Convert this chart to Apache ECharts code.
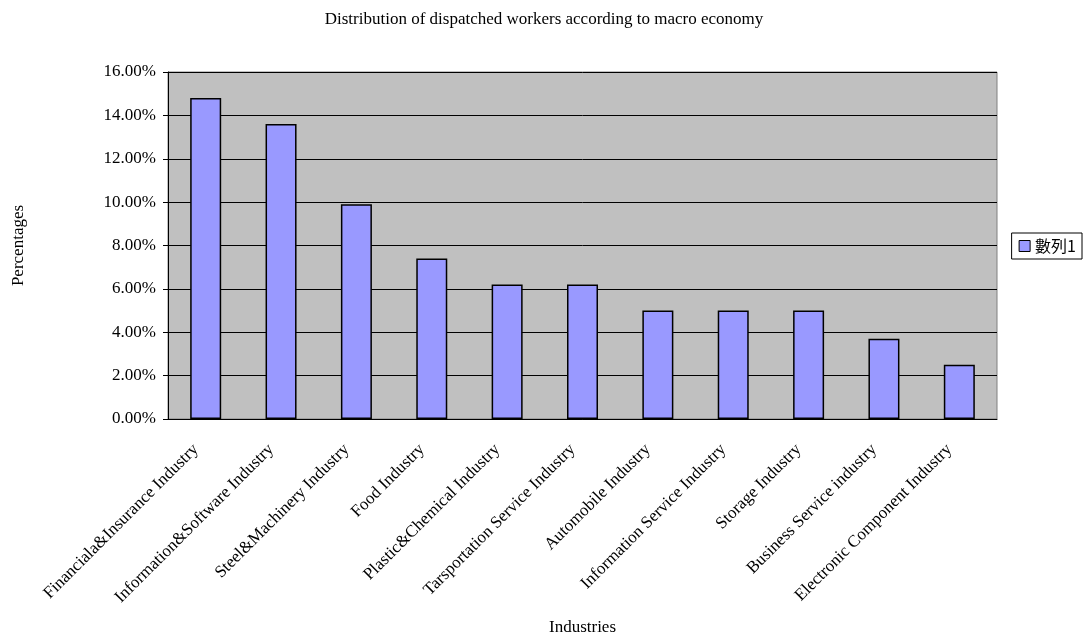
<!DOCTYPE html>
<html><head><meta charset="utf-8">
<script src="https://cdn.jsdelivr.net/npm/echarts@6/dist/echarts.min.js"></script>
<style>html,body{margin:0;padding:0;background:#fff}#c{width:1087px;height:635px}</style>
</head><body><div id="c"></div>
<script>
const categories = ["Financiala&Insurance Industry","Information&Software Industry","Steel&Machinery Industry","Food Industry","Plastic&Chemical Industry","Tarsportation Service Industry","Automobile Industry","Information Service Industry","Storage Industry","Business Service industry","Electronic Component Industry"];
const values = [14.8, 13.6, 9.9, 7.4, 6.2, 6.2, 5.0, 5.0, 5.0, 3.7, 2.5];
const seriesName = "數列1";
const titleText = "Distribution of dispatched workers according to macro economy";
const F = '"Liberation Serif","DejaVu Serif",serif';
const FS = 17;
const chart = echarts.init(document.getElementById('c'));
chart.setOption({
  animation:false,
  textStyle:{fontFamily:F},
  title:{text:titleText,left:539,textAlign:'center',top:6,textStyle:{fontFamily:F,fontSize:FS,fontWeight:'normal',color:'#000'}},
  legend:{right:5,top:233,orient:'vertical',itemWidth:11,itemHeight:11,itemGap:0,padding:[5,6,5,7],
    borderColor:'#000',borderWidth:1,
    textStyle:{fontFamily:'"Noto Sans CJK TC",'+F,fontSize:16,color:'#000'},
    data:[{name:seriesName,icon:'rect',itemStyle:{borderColor:'#000',borderWidth:1}}]},
  grid:{left:168,right:90,top:72,bottom:216,outerBoundsMode:'none',containLabel:false,show:true,backgroundColor:'#c0c0c0',borderColor:'#808080',borderWidth:1},
  xAxis:{type:'category',data:categories,name:'Industries',nameLocation:'middle',nameGap:200,
    nameTextStyle:{fontFamily:F,fontSize:FS,color:'#000'},
    axisLine:{lineStyle:{color:'#000',width:1}},
    axisTick:{inside:true,length:5,lineStyle:{color:'#000'}},
    axisLabel:{rotate:45,interval:0,fontFamily:F,fontSize:FS,color:'#000',margin:18,padding:[0,14,0,0]},
  },
  yAxis:{type:'value',min:0,max:16,interval:2,name:'Percentages',nameLocation:'middle',nameGap:141,
    nameTextStyle:{fontFamily:F,fontSize:FS,color:'#000'},
    axisLine:{show:true,lineStyle:{color:'#000'}},
    axisTick:{show:true,length:5,lineStyle:{color:'#000'}},
    axisLabel:{formatter:v=>v.toFixed(2)+'%',fontFamily:F,fontSize:FS,color:'#000',margin:12},
    splitLine:{lineStyle:{color:'#000',width:1}}},
  series:[{name:seriesName,type:'bar',data:values,barWidth:31,
    itemStyle:{color:'#9999ff',borderColor:'#000',borderWidth:1.5}}]
});
</script></body></html>
